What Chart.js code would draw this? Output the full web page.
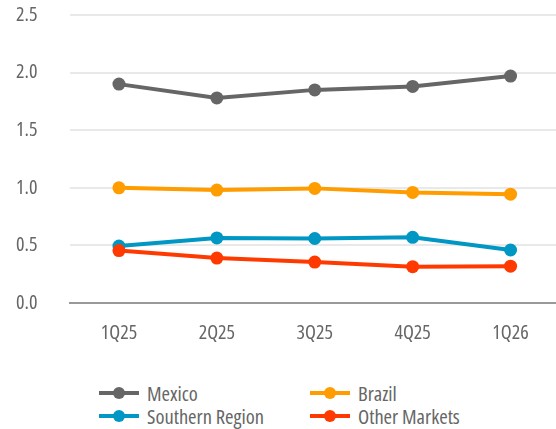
<!DOCTYPE html>
<html>
<head>
<meta charset="utf-8">
<script src="https://cdn.jsdelivr.net/npm/chart.js@4"></script>
<style>
  html, body { margin: 0; padding: 0; background: #fff; overflow: hidden; }
  #wrap { position: relative; width: 566px; height: 363px; }
  .legend { position: absolute; top: 381px; left: 0; width: 556px; font-family: "Open Sans", sans-serif; font-stretch: condensed; font-size: 20.5px; color: #666; }
  .item { position: absolute; display: flex; align-items: center; height: 23px; }
  .mark { position: relative; width: 40px; height: 4px; margin-right: 8px; }
  .mark i { position: absolute; left: 14px; top: -4px; width: 12px; height: 12px; border-radius: 50%; background: inherit; }
</style>
</head>
<body>
<div id="wrap"><canvas id="myChart" width="566" height="363"></canvas></div>
<div class="legend" id="legend"></div>
<script>
const quarters = ["1Q25", "2Q25", "3Q25", "4Q25", "1Q26"];
const mexico = [1.90, 1.78, 1.85, 1.88, 1.97];
const brazil = [1.00, 0.98, 0.995, 0.96, 0.945];
const southern = [0.495, 0.565, 0.56, 0.57, 0.46];
const otherMarkets = [0.455, 0.39, 0.355, 0.315, 0.32];
const yTicks = [0, 0.5, 1.0, 1.5, 2.0, 2.5];

const series = [
  { label: "Mexico", data: mexico, color: "#666666", order: 3, left: 99, top: 0 },
  { label: "Brazil", data: brazil, color: "#ff9c00", order: 2, left: 310, top: 0 },
  { label: "Southern Region", data: southern, color: "#0097c4", order: 1, left: 99, top: 23 },
  { label: "Other Markets", data: otherMarkets, color: "#ff3a00", order: 0, left: 310, top: 23 },
];

// condensed Open Sans if the canvas takes font-stretch, else Roboto Condensed
let tickFont = { family: '"Roboto Condensed", sans-serif', size: 19 };
const probe = document.createElement("canvas").getContext("2d");
probe.font = "400 20px 'Open Sans'";
const wNormal = probe.measureText("Southern Region 1Q25").width;
probe.font = "400 condensed 20px 'Open Sans'";
const wCond = probe.measureText("Southern Region 1Q25").width;
if (wCond < wNormal * 0.9) {
  tickFont = { family: "'Open Sans'", size: 20, weight: "400 condensed" };
}

const ctx = document.getElementById("myChart").getContext("2d");
new Chart(ctx, {
  type: "line",
  data: {
    labels: quarters,
    datasets: series.map((s) => ({
      label: s.label,
      data: s.data,
      borderColor: s.color,
      backgroundColor: s.color,
      pointBackgroundColor: s.color,
      borderWidth: 4,
      pointRadius: 6.5,
      pointBorderWidth: 0,
      order: s.order,
      fill: false,
      tension: 0,
    })),
  },
  options: {
    responsive: false,
    animation: false,
    layout: { padding: { top: 15, left: 16, bottom: 0 } },
    plugins: { legend: { display: false }, tooltip: { enabled: false } },
    scales: {
      x: {
        offset: true,
        grid: { display: false, drawTicks: false },
        border: { color: "#999", width: 2 },
        ticks: { color: "#666", padding: 18, font: tickFont },
      },
      y: {
        min: 0,
        max: 2.5,
        afterBuildTicks: (axis) => { axis.ticks = yTicks.map((v) => ({ value: v })); },
        afterFit: (axis) => { axis.width = 54; },
        grid: { color: "#e9e9e9", lineWidth: 2, drawTicks: false },
        border: { display: false },
        ticks: {
          color: "#666",
          padding: 0,
          crossAlign: "far",
          font: tickFont,
          callback: (v) => Number(v).toFixed(1),
        },
      },
    },
  },
});

const legend = document.getElementById("legend");
series.forEach((s) => {
  const item = document.createElement("div");
  item.className = "item";
  item.style.left = s.left + "px";
  item.style.top = s.top + "px";
  item.innerHTML = '<span class="mark" style="background:' + s.color + '"><i></i></span><span>' + s.label + "</span>";
  legend.appendChild(item);
});
</script>
</body>
</html>
